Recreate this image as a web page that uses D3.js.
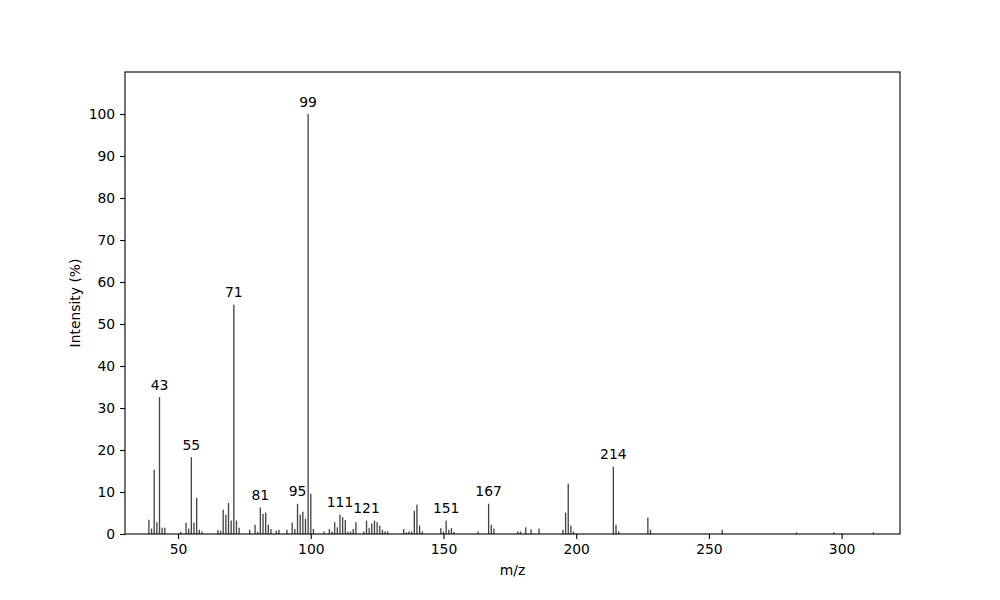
<!DOCTYPE html>
<html>
<head>
<meta charset="utf-8">
<script src="https://cdn.jsdelivr.net/npm/d3@7"></script>
<style>
    body { margin: 0; background: #fff; }
    #chart-area { width: 1000px; height: 600px; }
    .axis text { font-family: "DejaVu Sans", sans-serif; font-size: 13.9px; fill: #000; }
    .axis path { display: none; }
    .axis line { stroke: #000; stroke-width: 1.1; }
</style>
</head>
<body>
<div id="chart-area"></div>
<script>

// m/z values and relative intensities (%)
let mzValues = [39, 40, 41, 42, 43, 44, 45, 51, 53, 54, 55, 56, 57, 58, 59,
    65, 66, 67, 68, 69, 70, 71, 72, 73, 77, 79, 80, 81, 82, 83, 84, 85, 87, 88,
    91, 93, 94, 95, 96, 97, 98, 99, 100, 101, 105, 107, 108, 109, 110, 111, 112,
    113, 114, 115, 116, 117, 120, 121, 122, 123, 124, 125, 126, 127, 128, 129,
    135, 136, 137, 138, 139, 140, 141, 142, 149, 150, 151, 152, 153, 154, 163,
    167, 168, 169, 178, 179, 181, 183, 186, 195, 196, 197, 198, 199, 214, 215,
    216, 227, 228, 255, 283, 297, 312];

let intensityValues = [3.4, 1.3, 15.3, 2.8, 32.6, 1.5, 1.5, 0.5, 2.7, 1.3, 18.3, 2.7, 8.6, 1.0, 0.6,
    1.0, 0.8, 5.8, 4.6, 7.4, 3.2, 54.6, 3.2, 1.5, 1.0, 2.2, 0.5, 6.3, 4.8, 5.1, 2.2, 1.2, 0.8, 1.0,
    1.0, 2.7, 1.2, 7.2, 4.6, 5.3, 3.6, 100, 9.6, 1.2, 0.6, 1.2, 0.6, 2.8, 1.6, 4.6, 4.0,
    3.3, 0.6, 0.6, 1.2, 2.8, 0.6, 3.2, 1.4, 2.5, 3.2, 2.8, 2.0, 1.0, 0.6, 0.6,
    1.2, 0.4, 0.6, 0.6, 5.5, 7.0, 2.0, 0.6, 1.4, 0.6, 3.2, 1.0, 1.4, 0.5, 0.6,
    7.2, 2.2, 1.3, 0.6, 0.6, 1.6, 1.1, 1.3, 1.0, 5.1, 12.0, 2.0, 0.6, 16.0, 2.2,
    0.6, 3.9, 1.0, 1.0, 0.4, 0.4, 0.4];

// peaks that carry a label
let labeledPeaks = [43, 55, 71, 81, 95, 99, 111, 121, 151, 167, 214];

let xTicks = [50, 100, 150, 200, 250, 300];
let yTicks = [0, 10, 20, 30, 40, 50, 60, 70, 80, 90, 100];


class SpectrumVis {

    constructor(parentElement, mz, intensity, labels) {
        this.parentElement = parentElement;
        this.displayData = mz.map((m, i) => ({mz: m, intensity: intensity[i]}));
        this.labels = labels;

        this.initVis();
    }

    initVis() {
        let vis = this;

        vis.margin = {top: 72, right: 100, bottom: 66, left: 125};
        vis.width = 1000 - vis.margin.left - vis.margin.right;
        vis.height = 600 - vis.margin.top - vis.margin.bottom;

        vis.svg = d3.select("#" + vis.parentElement).append("svg")
            .attr("width", 1000)
            .attr("height", 600)
            .append("g")
            .attr("transform", `translate(${vis.margin.left}, ${vis.margin.top})`);

        vis.x = d3.scaleLinear()
            .domain([30, 322])
            .range([0, vis.width]);

        vis.y = d3.scaleLinear()
            .domain([0, 110])
            .range([vis.height, 0]);

        vis.xAxis = d3.axisBottom(vis.x)
            .tickValues(xTicks)
            .tickSize(4.9)
            .tickPadding(4.9);

        vis.yAxis = d3.axisLeft(vis.y)
            .tickValues(yTicks)
            .tickSize(4.9)
            .tickPadding(4.9);

        vis.svg.append("g")
            .attr("class", "x-axis axis")
            .attr("transform", "translate(0," + vis.height + ")");

        vis.svg.append("g")
            .attr("class", "y-axis axis");

        // axis titles
        vis.svg.append("text")
            .attr("x", vis.width / 2)
            .attr("y", vis.height + 41)
            .attr("text-anchor", "middle")
            .style("font", "13.9px 'DejaVu Sans', sans-serif")
            .text("m/z");

        vis.svg.append("text")
            .attr("transform", `translate(-45, ${vis.height / 2}) rotate(-90)`)
            .attr("text-anchor", "middle")
            .style("font", "13.9px 'DejaVu Sans', sans-serif")
            .text("Intensity (%)");

        vis.updateVis();
    }

    updateVis() {
        let vis = this;
        let half = 0.25;

        vis.svg.selectAll(".peak")
            .data(vis.displayData)
            .enter().append("rect")
            .attr("class", "peak")
            .attr("x", d => vis.x(d.mz - half))
            .attr("width", d => vis.x(d.mz + half) - vis.x(d.mz - half))
            .attr("y", d => vis.y(d.intensity))
            .attr("height", d => vis.y(0) - vis.y(d.intensity))
            .style("fill", "#444");

        let labelData = vis.displayData.filter(d => vis.labels.includes(d.mz));

        vis.svg.selectAll(".peak-label")
            .data(labelData)
            .enter().append("text")
            .attr("class", "peak-label")
            .attr("x", d => vis.x(d.mz))
            .attr("y", d => vis.y(d.intensity) - 7.5)
            .attr("text-anchor", "middle")
            .style("font", "13.9px 'DejaVu Sans', sans-serif")
            .text(d => d.mz);

        vis.svg.select(".x-axis").call(vis.xAxis);
        vis.svg.select(".y-axis").call(vis.yAxis);

        // frame around the plot area
        vis.svg.append("rect")
            .attr("width", vis.width)
            .attr("height", vis.height)
            .style("fill", "none")
            .style("stroke", "#000")
            .style("stroke-width", 1.1);
    }
}

new SpectrumVis("chart-area", mzValues, intensityValues, labeledPeaks);

</script>
</body>
</html>
